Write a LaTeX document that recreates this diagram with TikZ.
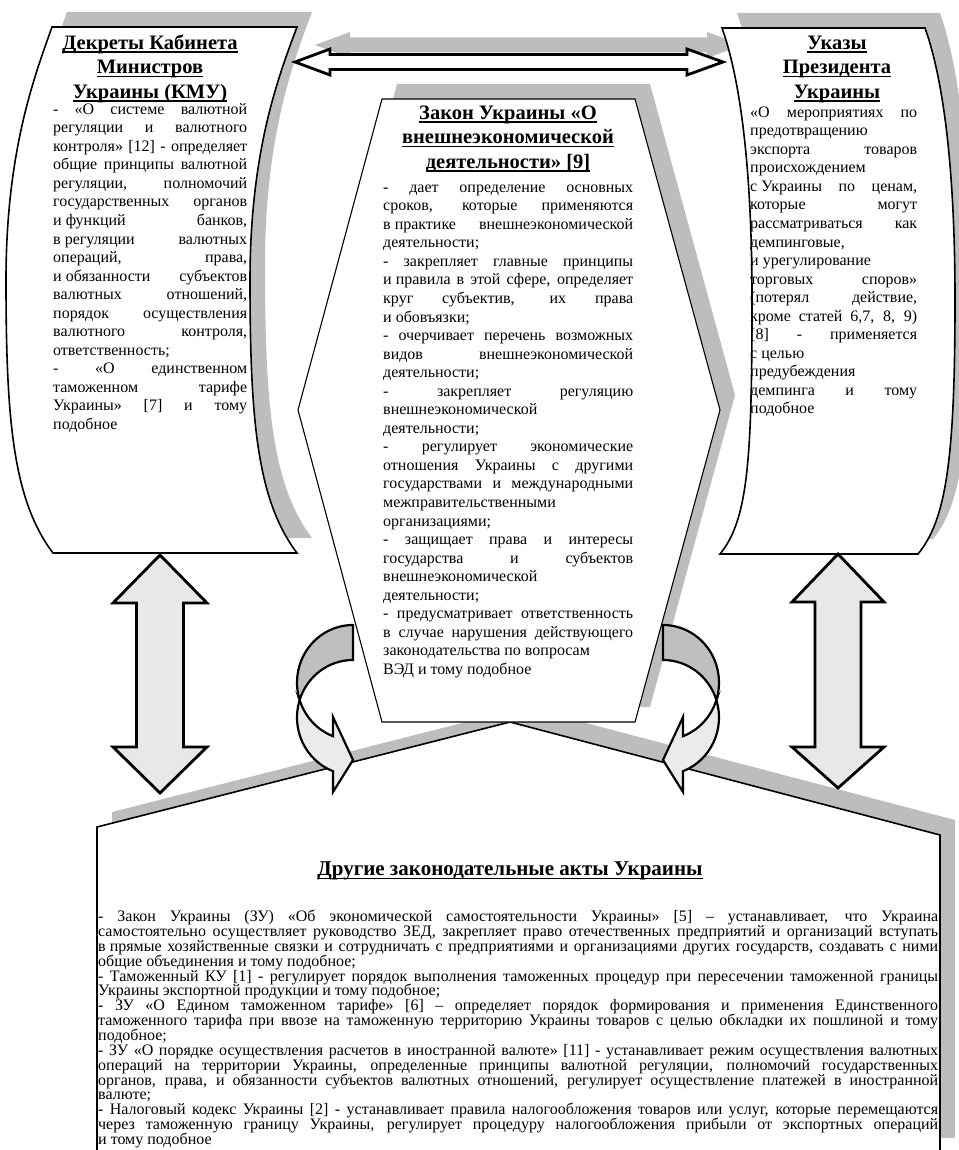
\documentclass[tikz,border=0pt]{standalone}
\usepackage{fontspec}
\setmainfont{Liberation Serif}
\usetikzlibrary{shadows}
\setlength{\parindent}{0pt}
\tolerance=10000
\hbadness=10000
\definecolor{shadegray}{gray}{0.74}
\definecolor{arrowfill}{gray}{0.91}
\definecolor{backfill}{gray}{0.75}
\definecolor{frontfill}{gray}{0.92}
\newcommand{\ulbox}[1]{\leavevmode\setbox0\hbox{#1}\rlap{\rule[-3.6pt]{\wd0}{1.5pt}}\box0}

\tikzset{
  boxline/.style={draw=black, fill=white, line width=1.6pt},
  hexline/.style={draw=black, fill=white, line width=1.1pt},
  boxshadow/.style={drop shadow={shadow xshift=15pt, shadow yshift=15pt, fill=shadegray, opacity=1}},
  arrowshadow/.style={drop shadow={shadow xshift=20pt, shadow yshift=17pt, fill=shadegray, opacity=1}},
  blockarrow/.style={draw=black, fill=arrowfill, line width=2.8pt, line join=miter},
  curvearrow/.style={draw=black, line width=2.2pt, line join=miter},
  ringarc/.style={x radius=56pt, y radius=57.5pt},
  headtext/.style={inner sep=0pt, anchor=north, align=center, font=\bfseries\fontsize{20.5}{24.5}\selectfont},
  bodytext/.style={inner sep=0pt, anchor=north west, align=justify, font=\fontsize{16}{18.55}\selectfont},
}

\begin{document}
\begin{tikzpicture}[x=1pt, y=-1pt]

    \useasboundingbox (0,0) rectangle (958,1150);

    % Other acts (bottom)
    \draw[boxline, boxshadow] (97,827) -- (510,722) -- (940,835) -- (940,1153) -- (97,1153) -- cycle;

    % Law (centre)
    \draw[hexline, boxshadow] (382,99) -- (635,99) -- (720,410) -- (635,722) -- (382,722) -- (298,410) -- cycle;

    % Decrees (left scroll)
    \draw[boxline, boxshadow] (52,27) -- (297,27) .. controls (279,75) and (250,150) .. (250,280)
        .. controls (250,420) and (257,500) .. (297,553) -- (53,553)
        .. controls (13,500) and (6,420) .. (6,280) .. controls (6,150) and (35,75) .. (52,27) -- cycle;

    % Top double arrow
    \draw[blockarrow, fill=white, arrowshadow] (295,62) -- (330,49) -- (330,54.5) -- (687,54.5) -- (687,49) -- (723,62)
        -- (687,75) -- (687,69.5) -- (330,69.5) -- (330,75) -- cycle;

    % Orders (right scroll)
    \draw[boxline, boxshadow] (722,28) -- (925,28) .. controls (940,70) and (955,150) .. (955,300)
        .. controls (955,460) and (946,520) .. (918,554) -- (720,554)
        .. controls (748,520) and (752,460) .. (752,300) .. controls (752,150) and (737,70) .. (722,28) -- cycle;

    % Vertical double arrows
    \draw[blockarrow] (160,555) -- (207,603) -- (183.5,603) -- (183.5,747) -- (207,747) -- (160,793)
        -- (113,747) -- (136.5,747) -- (136.5,603) -- (113,603) -- cycle;
    \draw[blockarrow] (838,554) -- (884,602) -- (861,602) -- (861,747) -- (884,747) -- (838,788)
        -- (792,747) -- (815,747) -- (815,602) -- (792,602) -- cycle;

    % Curved arrows
    \draw[curvearrow, fill=frontfill] (299.65,700) arc[ringarc, start angle=162.3, end angle=249.1]
        -- (333,792) -- (353,760) -- (333,717) -- (333,736.2) arc[ringarc, start angle=249.1, end angle=197.7] -- cycle;
    \draw[curvearrow, fill=backfill] (353,625) arc[ringarc, start angle=90, end angle=197.7]
        arc[ringarc, start angle=162.3, end angle=90] -- cycle;
    \begin{scope}[xshift=1016pt, xscale=-1]
        \draw[curvearrow, fill=frontfill] (299.65,700) arc[ringarc, start angle=162.3, end angle=249.1]
            -- (333,792) -- (353,760) -- (333,717) -- (333,736.2) arc[ringarc, start angle=249.1, end angle=197.7] -- cycle;
        \draw[curvearrow, fill=backfill] (353,625) arc[ringarc, start angle=90, end angle=197.7]
            arc[ringarc, start angle=162.3, end angle=90] -- cycle;
    \end{scope}

    % Texts
    \node[headtext] (kmuhead) at (150,32) {\strut\ulbox{Декреты Кабинета}\\ \ulbox{Министров}\\ \ulbox{Украины (КМУ)}};
    \node[bodytext, text width=194pt] (kmu) at (53,101) {\strut- «О системе валютной\linebreak
        регуляции и валютного\linebreak
        контроля» [12] - определяет\linebreak
        общие принципы валютной\linebreak
        регуляции, полномочий\linebreak
        государственных органов\linebreak
        \mbox{и функций} банков,\linebreak
        \mbox{в регуляции} валютных\linebreak
        операций, права,\linebreak
        \mbox{и обязанности} субъектов\linebreak
        валютных отношений,\linebreak
        порядок осуществления\linebreak
        валютного контроля,\linebreak
        ответственность;\newline
        - «О единственном\linebreak
        таможенном тарифе\linebreak
        Украины» [7] и тому\linebreak
        подобное};

    \node[headtext] (ukazhead) at (837,32) {\strut\ulbox{Указы}\\ \ulbox{Президента}\\ \ulbox{Украины}};
    \node[bodytext, text width=167pt] (ukaz) at (750,104) {\strut«О мероприятиях по\linebreak
        предотвращению\newline
        экспорта товаров\linebreak
        происхождением\newline
        \mbox{с Украины} по ценам,\linebreak
        которые могут\linebreak
        рассматриваться как\linebreak
        демпинговые,\newline
        и урегулирование\newline
        торговых споров»\linebreak
        (потерял действие,\linebreak
        кроме статей 6,7, 8, 9)\linebreak{}
        [8] - применяется\linebreak
        с целью\newline
        предубеждения\newline
        демпинга и тому\linebreak
        подобное};

    \node[headtext] (zakonhead) at (508,102) {\strut\ulbox{Закон Украины «О}\\ \ulbox{внешнеэкономической}\\ \ulbox{деятельности» [9]}};
    \node[bodytext, text width=250pt] (zakon) at (383,179) {\strut- дает определение основных\linebreak
        сроков, которые применяются\linebreak
        \mbox{в практике} внешнеэкономической\linebreak
        деятельности;\newline
        - закрепляет главные принципы\linebreak
        \mbox{и правила} в этой сфере, определяет\linebreak
        круг субъектив, их права\linebreak
        и обовъязки;\newline
        - очерчивает перечень возможных\linebreak
        видов внешнеэкономической\linebreak
        деятельности;\newline
        - закрепляет регуляцию\linebreak
        внешнеэкономической\newline
        деятельности;\newline
        - регулирует экономические\linebreak
        отношения Украины с другими\linebreak
        государствами и международными\linebreak
        межправительственными\newline
        организациями;\newline
        - защищает права и интересы\linebreak
        государства и субъектов\linebreak
        внешнеэкономической\newline
        деятельности;\newline
        - предусматривает ответственность\linebreak
        в случае нарушения действующего\linebreak
        законодательства по вопросам\newline
        ВЭД и тому подобное};

    \node[headtext, font=\bfseries\fontsize{21}{25}\selectfont] (otherhead) at (510,858) {\strut\ulbox{Другие законодательные акты Украины}};
    \node[bodytext, text width=840pt, font=\fontsize{16}{14.85}\selectfont] (other) at (98,910) {\strut- Закон Украины (ЗУ) «Об экономической самостоятельности Украины» [5] – устанавливает, что Украина\linebreak
        самостоятельно осуществляет руководство ЗЕД, закрепляет право отечественных предприятий и организаций вступать\linebreak
        \mbox{в прямые} хозяйственные связки и сотрудничать с предприятиями и организациями других государств, создавать с ними\linebreak
        общие объединения и тому подобное;\newline
        - Таможенный КУ [1] - регулирует порядок выполнения таможенных процедур при пересечении таможенной границы\linebreak
        Украины экспортной продукции и тому подобное;\newline
        - ЗУ «О Едином таможенном тарифе» [6] – определяет порядок формирования и применения Единственного\linebreak
        таможенного тарифа при ввозе на таможенную территорию Украины товаров с целью обкладки их пошлиной и тому\linebreak
        подобное;\newline
        - ЗУ «О порядке осуществления расчетов в иностранной валюте» [11] - устанавливает режим осуществления валютных\linebreak
        операций на территории Украины, определенные принципы валютной регуляции, полномочий государственных\linebreak
        органов, права, и обязанности субъектов валютных отношений, регулирует осуществление платежей в иностранной\linebreak
        валюте;\newline
        - Налоговый кодекс Украины [2] - устанавливает правила налогообложения товаров или услуг, которые перемещаются\linebreak
        через таможенную границу Украины, регулирует процедуру налогообложения прибыли от экспортных операций\linebreak
        \mbox{и тому} подобное\baselineskip=14.85pt\lineskip=0pt\lineskiplimit=-100pt\par};

\end{tikzpicture}
\end{document}
